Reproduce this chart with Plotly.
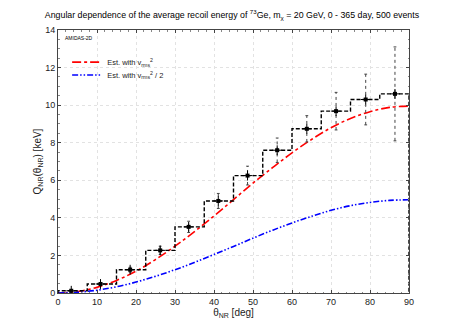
import plotly.graph_objects as go

# histogram (reconstructed Q_NR per bin), bin width 7.5 deg
BIN_EDGES = [0, 7.5, 15, 22.5, 30, 37.5, 45, 52.5, 60, 67.5, 75, 82.5, 90]
BIN_LEVELS = [0.12, 0.48, 1.24, 2.27, 3.52, 4.90, 6.25, 7.60, 8.74, 9.68, 10.30, 10.60]

# data points with error bars
POINT_X = [3.4, 10.9, 18.5, 26.2, 33.5, 41.1, 48.6, 56.2, 63.8, 71.3, 78.9, 86.4]
POINT_Y = [0.12, 0.48, 1.24, 2.27, 3.52, 4.90, 6.25, 7.60, 8.74, 9.68, 10.30, 10.60]
POINT_ERR = [0.03, 0.08, 0.13, 0.22, 0.30, 0.40, 0.50, 0.65, 0.70, 1.00, 1.35, 2.50]

# estimate curves, read off every 5 deg
CURVE_X = [0, 5, 10, 15, 20, 25, 30, 35, 40, 45, 50, 55, 60, 65, 70, 75, 80, 85, 90]
EST_VRMS = [0.0, 0.08, 0.30, 0.67, 1.16, 1.78, 2.49, 3.27, 4.10, 4.97, 5.85, 6.67,
            7.46, 8.17, 8.80, 9.29, 9.65, 9.88, 9.95]
EST_VRMS_HALF = [0.0, 0.04, 0.15, 0.33, 0.58, 0.89, 1.24, 1.63, 2.05, 2.48, 2.92, 3.34,
                 3.73, 4.08, 4.40, 4.65, 4.82, 4.93, 4.96]

FONT = "Liberation Sans, Arial, sans-serif"

fig = go.Figure()

fig.add_trace(go.Scatter(x=CURVE_X, y=EST_VRMS, mode="lines", line_shape="spline",
                         line=dict(color="red", width=1.6, dash="dashdot"),
                         name="Est. with v<sub>rms</sub><sup>2</sup>", legend="legend"))
fig.add_trace(go.Scatter(x=CURVE_X, y=EST_VRMS_HALF, mode="lines", line_shape="spline",
                         line=dict(color="blue", width=1.6, dash="6px,2px,1.5px,2px,1.5px,2px"),
                         name="Est. with v<sub>rms</sub><sup>2</sup> / 2", legend="legend2"))

# step histogram, closed down to zero at both ends
step_x = [0] + BIN_EDGES[:-1] + [90, 90]
step_y = [0] + BIN_LEVELS + [BIN_LEVELS[-1], 0]
fig.add_trace(go.Scatter(x=step_x, y=step_y, mode="lines", line_shape="hv",
                         line=dict(color="black", width=1.4, dash="4px,2px"),
                         showlegend=False, hoverinfo="skip"))

# dotted error bars
ex, ey = [], []
for x, y, e in zip(POINT_X, POINT_Y, POINT_ERR):
    ex += [x, x, None]
    ey += [y - e, y + e, None]
fig.add_trace(go.Scatter(x=ex, y=ey, mode="lines",
                         line=dict(color="#444", width=1, dash="dot"),
                         showlegend=False, hoverinfo="skip"))
caps_y = [y - e for y, e in zip(POINT_Y, POINT_ERR)] + [y + e for y, e in zip(POINT_Y, POINT_ERR)]
fig.add_trace(go.Scatter(x=POINT_X + POINT_X, y=caps_y, mode="markers",
                         marker=dict(symbol="line-ew", size=2, line=dict(color="#444", width=1)),
                         showlegend=False, hoverinfo="skip"))

fig.add_trace(go.Scatter(x=POINT_X, y=POINT_Y, mode="markers",
                         marker=dict(symbol="square", size=4, color="black"),
                         showlegend=False))
fig.add_trace(go.Scatter(x=POINT_X, y=POINT_Y, mode="markers",
                         marker=dict(symbol="cross-thin", size=7, line=dict(color="black", width=1)),
                         showlegend=False))

fig.add_annotation(text="AMIDAS-2D", x=0.015, y=0.99, xref="paper", yref="paper",
                   xanchor="left", yanchor="top", showarrow=False,
                   font=dict(family=FONT, size=5, color="black"))

axis_common = dict(showline=True, linecolor="#444", linewidth=1, mirror="allticks",
                   ticks="inside", ticklen=3, tickcolor="#444", automargin=False,
                   showgrid=True, gridcolor="#e2e2e2", griddash="dot", gridwidth=1,
                   zeroline=False, tickfont=dict(family=FONT, size=9, color="#222"))

fig.update_xaxes(range=[0, 90], dtick=10, tick0=0,
                 minor=dict(dtick=2, ticks="inside", ticklen=1.5, tickcolor="#888", showgrid=False),
                 title=dict(text="θ<sub>NR</sub> [deg]", standoff=0,
                            font=dict(family=FONT, size=10, color="#222")),
                 **axis_common)
fig.update_yaxes(range=[0, 14], dtick=2, tick0=0,
                 minor=dict(dtick=0.5, ticks="inside", ticklen=1.5, tickcolor="#888", showgrid=False),
                 title=dict(text="Q<sub>NR</sub>(θ<sub>NR</sub>) [keV]", standoff=1,
                            font=dict(family=FONT, size=10, color="#222")),
                 **axis_common)

legend_style = dict(xanchor="left", yanchor="middle", bgcolor="rgba(255,255,255,0)",
                    font=dict(family=FONT, size=7.5, color="#222"), itemwidth=30)

# page body has an 8px margin, so the plot box is shifted up/left by 8px here
fig.update_layout(
    width=458, height=321,
    margin=dict(l=50, r=57, t=22, b=36, autoexpand=False),
    paper_bgcolor="white", plot_bgcolor="white",
    title=dict(text="Angular dependence of the average recoil energy of <sup>73</sup>Ge, "
                    "m<sub>χ</sub> = 20 GeV, 0 - 365 day, 500 events",
               x=0.489, xanchor="center", y=0.978, yanchor="middle",
               font=dict(family=FONT, size=8.8, color="black")),
    legend=dict(x=0.026, y=0.878, **legend_style),
    legend2=dict(x=0.026, y=0.829, **legend_style),
    showlegend=True,
)

fig.write_html("out.html")
